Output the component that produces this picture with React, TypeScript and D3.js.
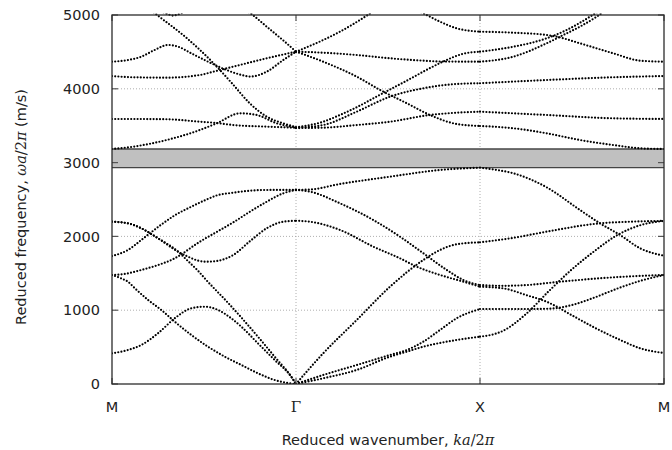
import React from "react";
import * as d3 from "d3";

const width = 672;
const height = 450;
const margin = { top: 15, right: 8, bottom: 66, left: 112 };

const kTicks = [0, 1, 2, 3];
const kLabels = ["M", "Γ", "X", "M"];
const fTicks = [0, 1000, 2000, 3000, 4000, 5000];
const gridK = [1, 2];
const gridF = [1000, 2000, 3000, 4000];
const gap = [2931, 3184];

// bands, [k, frequency], one list per branch
// M -> Γ
const bandsMG = [
  [[0, 416], [0.087, 461], [0.159, 528], [0.25, 687], [0.341, 890], [0.431, 1026], [0.504, 1047], [0.576, 1003], [0.648, 890], [0.703, 776], [0.793, 551], [0.884, 325], [0.974, 99], [1, 0]],
  [[0, 1477], [0.051, 1430], [0.087, 1385], [0.123, 1300], [0.196, 1138], [0.268, 1003], [0.341, 844], [0.431, 664], [0.522, 505], [0.613, 370], [0.703, 257], [0.793, 145], [0.884, 54], [0.95, 15], [1, 0]],
  [[0, 2200], [0.087, 2177], [0.159, 2110], [0.25, 1974], [0.359, 1793], [0.413, 1665], [0.467, 1535], [0.512, 1409], [0.621, 1125], [0.703, 900], [0.793, 641], [0.884, 370], [0.974, 99], [1, 0]],
  [[0, 2200], [0.087, 2177], [0.159, 2110], [0.25, 1974], [0.359, 1793], [0.413, 1725], [0.467, 1672], [0.512, 1657], [0.569, 1667], [0.659, 1748], [0.75, 1935], [0.841, 2110], [0.931, 2199], [1, 2212]],
  [[0, 1734], [0.087, 1816], [0.159, 1950], [0.205, 2040], [0.268, 2160], [0.341, 2285], [0.431, 2402], [0.512, 2497], [0.569, 2555], [0.659, 2592], [0.75, 2619], [0.841, 2629], [1, 2630]],
  [[0, 1477], [0.069, 1491], [0.159, 1545], [0.25, 1612], [0.341, 1703], [0.386, 1771], [0.45, 1883], [0.478, 1928], [0.569, 2060], [0.659, 2190], [0.75, 2335], [0.841, 2470], [0.931, 2584], [1, 2630]],
  [[0, 3184], [0.116, 3216], [0.297, 3306], [0.478, 3442], [0.569, 3532], [0.696, 3668], [0.786, 3645], [0.895, 3532], [1, 3478]],
  [[0, 3591], [0.116, 3591], [0.297, 3587], [0.478, 3554], [0.551, 3541], [0.659, 3509], [0.841, 3487], [1, 3473]],
  [[0, 4173], [0.116, 4156], [0.297, 4151], [0.478, 4187], [0.551, 4232], [0.659, 4300], [0.841, 4413], [1, 4503]],
  [[0, 4367], [0.087, 4390], [0.159, 4435], [0.232, 4526], [0.304, 4594], [0.359, 4571], [0.431, 4480], [0.522, 4367], [0.613, 4264], [0.7, 4190], [0.75, 4165], [0.841, 4232], [0.931, 4390], [1, 4503]],
  [[0.2, 5090], [0.245, 5000], [0.4, 4700], [0.55, 4350], [0.65, 4080], [0.75, 3800], [0.841, 3622], [0.931, 3532], [1, 3482]],
  [[0.7, 5110], [0.765, 5000], [0.83, 4864], [0.884, 4752], [0.939, 4638], [1, 4503]],
  [[0.25, 5080], [0.31, 5005], [0.333, 4992], [0.356, 5005], [0.42, 5080]],
];

// Γ -> X
const bandsGX = [
  [[1, 2630], [1.076, 2606], [1.239, 2448], [1.42, 2222], [1.565, 1996], [1.692, 1771], [1.819, 1545], [1.909, 1409], [2, 1341]],
  [[1, 2212], [1.076, 2199], [1.239, 2087], [1.42, 1861], [1.565, 1703], [1.656, 1590], [1.783, 1477], [1.909, 1386], [2, 1318]],
  [[1, 0], [1.148, 416], [1.33, 867], [1.511, 1318], [1.692, 1680], [1.783, 1816], [1.873, 1893], [2, 1920]],
  [[1, 0], [1.148, 122], [1.33, 257], [1.511, 393], [1.602, 461], [1.692, 573], [1.783, 732], [1.873, 890], [2, 1016]],
  [[1, 0], [1.148, 77], [1.33, 190], [1.511, 370], [1.602, 438], [1.692, 505], [1.873, 596], [2, 641]],
  [[1, 2630], [1.076, 2635], [1.239, 2710], [1.511, 2809], [1.783, 2900], [2, 2931]],
  [[1, 4503], [1.148, 4661], [1.239, 4774], [1.39, 5000], [1.45, 5100]],
  [[1, 4503], [1.148, 4489], [1.33, 4458], [1.511, 4413], [1.692, 4381], [1.783, 4370], [2, 4367]],
  [[1, 4503], [1.148, 4367], [1.33, 4164], [1.457, 3984], [1.602, 3804], [1.728, 3645], [1.873, 3523], [2, 3496]],
  [[1, 3478], [1.148, 3554], [1.239, 3645], [1.33, 3750], [1.457, 3920], [1.602, 4110], [1.728, 4280], [1.801, 4370], [1.909, 4475], [2, 4503]],
  [[1, 3473], [1.148, 3509], [1.33, 3690], [1.511, 3893], [1.692, 4007], [1.873, 4065], [2, 4075]],
  [[1, 3468], [1.148, 3473], [1.33, 3509], [1.511, 3554], [1.728, 3645], [1.873, 3676], [2, 3690]],
  [[1.65, 5080], [1.71, 5000], [1.783, 4909], [1.873, 4819], [2, 4774]],
];

// X -> M
const bandsXM = [
  [[2, 2931], [2.091, 2900], [2.181, 2855], [2.362, 2665], [2.543, 2358], [2.652, 2177], [2.761, 2019], [2.87, 1839], [3, 1738]],
  [[2, 1920], [2.181, 1980], [2.362, 2064], [2.652, 2177], [2.815, 2199], [3, 2210]],
  [[2, 641], [2.125, 720], [2.25, 948], [2.375, 1260], [2.5, 1554], [2.625, 1806], [2.75, 2023], [2.875, 2154], [3, 2210]],
  [[2, 1341], [2.125, 1330], [2.25, 1340], [2.435, 1386], [2.724, 1445], [3, 1477]],
  [[2, 1318], [2.125, 1296], [2.25, 1206], [2.375, 1100], [2.5, 930], [2.625, 760], [2.75, 610], [2.875, 480], [3, 420]],
  [[2, 1016], [2.25, 1016], [2.375, 1020], [2.5, 1070], [2.625, 1174], [2.75, 1296], [2.875, 1400], [3, 1477]],
  [[2, 4774], [2.181, 4760], [2.362, 4729], [2.417, 4706], [2.543, 4616], [2.724, 4481], [2.87, 4381], [3, 4367]],
  [[2, 4503], [2.181, 4570], [2.362, 4684], [2.471, 4797], [2.598, 4977], [2.65, 5060]],
  [[2, 4367], [2.181, 4435], [2.362, 4616], [2.453, 4729], [2.543, 4842], [2.634, 4977], [2.68, 5060]],
  [[2, 4075], [2.362, 4119], [2.724, 4156], [3, 4173]],
  [[2, 3690], [2.362, 3645], [2.724, 3600], [3, 3591]],
  [[2, 3496], [2.181, 3465], [2.362, 3397], [2.543, 3306], [2.724, 3238], [2.87, 3194], [3, 3184]],
];

const App = () => {
  const x = d3.scaleLinear().domain([0, 3]).range([margin.left, width - margin.right]);
  const y = d3.scaleLinear().domain([0, 5000]).range([height - margin.bottom, margin.top]);
  const line = d3.line()
    .x((d) => x(d[0]))
    .y((d) => y(d[1]))
    .curve(d3.curveMonotoneX);

  const x0 = x(0), x1 = x(3), y0 = y(0), y1 = y(5000);
  const allBands = [...bandsMG, ...bandsGX, ...bandsXM];
  const sans = "'DejaVu Sans', sans-serif";
  const serif = "'DejaVu Serif', serif";

  return (
    <svg width={width} height={height} style={{ position: "absolute", left: 0, top: 0, background: "#fff" }}>
      <defs>
        <clipPath id="plot">
          <rect x={x0} y={y1 - 1.5} width={x1 - x0} height={y0 - y1 + 1.5} />
        </clipPath>
      </defs>

      {gridF.map((f) => (
        <line key={"gf" + f} x1={x0} x2={x1} y1={y(f)} y2={y(f)} stroke="#9a9a9a" strokeWidth={0.8} strokeDasharray="1 2" />
      ))}
      {gridK.map((k) => (
        <line key={"gk" + k} x1={x(k)} x2={x(k)} y1={y0} y2={y1} stroke="#9a9a9a" strokeWidth={0.8} strokeDasharray="1 2" />
      ))}

      <rect x={x0} y={y(gap[1])} width={x1 - x0} height={y(gap[0]) - y(gap[1])} fill="#c0c0c0" />
      <line x1={x0} x2={x1} y1={y(gap[1])} y2={y(gap[1])} stroke="#444" strokeWidth={1.3} />
      <line x1={x0} x2={x1} y1={y(gap[0])} y2={y(gap[0])} stroke="#444" strokeWidth={1.3} />

      <g clipPath="url(#plot)">
        {allBands.map((b, i) => (
          <path key={i} d={line(b)} fill="none" stroke="#000" strokeWidth={2.2}
            strokeLinecap="round" strokeDasharray="0 3.2" />
        ))}
      </g>

      {fTicks.map((f) => (
        <g key={"tf" + f}>
          <line x1={x0} x2={x0 + 6} y1={y(f)} y2={y(f)} stroke="#555" strokeWidth={1.2} />
          <line x1={x1} x2={x1 - 6} y1={y(f)} y2={y(f)} stroke="#555" strokeWidth={1.2} />
          <text x={100} y={y(f)} dy="0.36em" textAnchor="end" fontFamily={sans} fontSize={14.5} fill="#222">{f}</text>
        </g>
      ))}
      {kTicks.map((k, i) => (
        <g key={"tk" + k}>
          <line x1={x(k)} x2={x(k)} y1={y0} y2={y0 - 6} stroke="#555" strokeWidth={1.2} />
          <line x1={x(k)} x2={x(k)} y1={y1} y2={y1 + 6} stroke="#555" strokeWidth={1.2} />
          <text x={x(k)} y={412} textAnchor="middle" fontFamily={kLabels[i] === "Γ" ? serif : sans}
            fontSize={kLabels[i] === "Γ" ? 15 : 14.5} fill="#222">{kLabels[i]}</text>
        </g>
      ))}

      <rect x={x0} y={y1} width={x1 - x0} height={y0 - y1} fill="none" stroke="#2b2b2b" strokeWidth={1.3} />

      <text x={(x0 + x1) / 2} y={445} textAnchor="middle" fontFamily={sans} fontSize={14.5} fill="#222">
        Reduced wavenumber,{" "}
        <tspan fontFamily={serif} fontStyle="italic">ka</tspan>
        <tspan fontFamily={serif}>/2</tspan>
        <tspan fontFamily={serif} fontStyle="italic">π</tspan>
      </text>
      <text transform={`translate(26, 207) rotate(-90)`} textAnchor="middle" fontFamily={sans} fontSize={14.5} fill="#222">
        Reduced frequency,{" "}
        <tspan fontFamily={serif} fontStyle="italic">ωa</tspan>
        <tspan fontFamily={serif}>/2</tspan>
        <tspan fontFamily={serif} fontStyle="italic">π</tspan>
        {" (m/s)"}
      </text>
    </svg>
  );
};

export default App;
